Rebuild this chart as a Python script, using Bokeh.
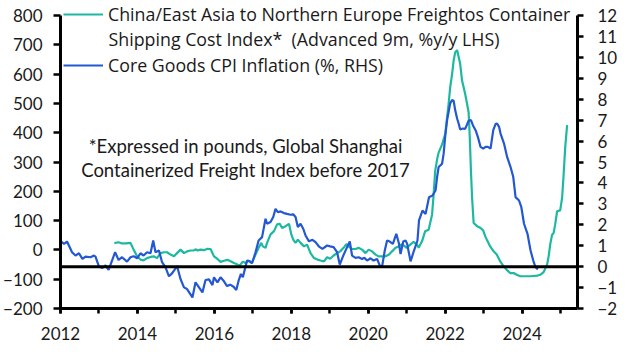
from bokeh.plotting import figure
from bokeh.models import Range1d, LinearAxis, FixedTicker, Span, Label, Legend, LegendItem, ColumnDataSource
from bokeh.embed import file_html
from bokeh.resources import INLINE

# Core goods CPI inflation (%, RHS)
cpi_x = [2012.02, 2012.09, 2012.17, 2012.30, 2012.39, 2012.48, 2012.57, 2012.65, 2012.78, 2012.87, 2012.91,
         2013.00, 2013.09, 2013.17, 2013.25, 2013.34, 2013.42, 2013.51, 2013.60, 2013.73, 2013.82, 2013.90,
         2013.99, 2014.08, 2014.16, 2014.25, 2014.34, 2014.41, 2014.47, 2014.56, 2014.64, 2014.73, 2014.82,
         2014.90, 2015.03, 2015.12, 2015.21, 2015.29, 2015.43, 2015.51, 2015.60, 2015.69, 2015.77, 2015.86,
         2015.95, 2015.99, 2016.08, 2016.16, 2016.25, 2016.33, 2016.41, 2016.50, 2016.57, 2016.63, 2016.69,
         2016.74, 2016.81, 2016.85, 2016.92, 2016.98, 2017.07, 2017.15, 2017.24, 2017.33, 2017.37, 2017.46,
         2017.53, 2017.59, 2017.65, 2017.72, 2017.81, 2017.89, 2017.98, 2018.05, 2018.11, 2018.17, 2018.24,
         2018.31, 2018.37, 2018.46, 2018.55, 2018.63, 2018.72, 2018.81, 2018.93, 2019.01, 2019.10, 2019.19,
         2019.26, 2019.34, 2019.43, 2019.52, 2019.58, 2019.67, 2019.75, 2019.84, 2019.90, 2019.97, 2020.06,
         2020.14, 2020.23, 2020.30, 2020.36, 2020.43, 2020.49, 2020.56, 2020.64, 2020.73, 2020.80, 2020.84,
         2020.91, 2020.97, 2021.01, 2021.10, 2021.19, 2021.28, 2021.32, 2021.41, 2021.49, 2021.58, 2021.67,
         2021.75, 2021.79, 2021.83, 2021.92, 2021.96, 2022.00, 2022.05, 2022.09, 2022.13, 2022.18, 2022.22,
         2022.26, 2022.31, 2022.35, 2022.39, 2022.46, 2022.52, 2022.61, 2022.67, 2022.72, 2022.79, 2022.85,
         2022.92, 2022.99, 2023.05, 2023.11, 2023.18, 2023.25, 2023.31, 2023.35, 2023.40, 2023.44, 2023.53,
         2023.61, 2023.70, 2023.77, 2023.83, 2023.92, 2023.98, 2024.05, 2024.14, 2024.22, 2024.29, 2024.35,
         2024.41]
cpi_y = [1.20, 1.09, 1.20, 0.69, 0.53, 0.64, 0.37, 0.48, 0.45, 0.53, 0.48,
         0.00, -0.06, 0.06, -0.16, 0.29, 0.69, 0.32, 0.45, 0.24, 0.45, 0.50,
         0.40, 0.64, 0.53, 0.69, 0.64, 1.25, 0.69, 0.77, 0.21, -0.03, -0.46,
         -0.32, 0.03, -0.59, -0.99, -1.07, -1.47, -0.75, -0.99, -1.23, -0.64, -0.61,
         -0.88, -0.51, -0.75, -0.51, -0.70, -0.93, -0.86, -0.96, -1.12, -0.67, -0.35,
         -0.51, 0.00, 0.29, 0.26, 0.16, 0.69, 1.25, 1.41, 2.29, 2.05, 2.13,
         2.37, 2.76, 2.60, 2.64, 2.56, 2.52, 2.48, 2.50, 2.37, 1.89, 2.05,
         1.81, 1.49, 1.21, 1.28, 1.17, 0.96, 0.85, 1.01, 0.97, 0.93, 0.69,
         0.10, 0.48, 0.85, 1.20, 0.53, 0.42, 0.45, 0.37, 0.42, 0.29, 0.40,
         0.29, 0.37, 0.05, 0.00, 0.77, 1.25, 1.20, 1.09, 1.57, 1.09, 0.60,
         1.20, 1.25, 1.10, 0.25, 0.77, 1.25, 2.21, 2.68, 2.52, 3.32, 3.40,
         3.64, 4.28, 4.76, 4.92, 5.40, 6.20, 7.00, 7.40, 7.80, 7.96, 7.93,
         7.48, 7.08, 6.84, 6.55, 6.60, 6.58, 6.97, 7.00, 6.76, 6.52, 6.20,
         5.72, 5.64, 5.72, 5.72, 5.64, 6.52, 6.81, 6.84, 6.68, 6.36, 5.88,
         5.24, 4.76, 4.28, 3.32, 3.16, 2.84, 2.05, 1.57, 0.77, 0.29, -0.03,
         -0.13]

# Freightos container shipping cost index (advanced 9m, %y/y, LHS)
frt_x = [2013.40, 2013.51, 2013.60, 2013.71, 2013.82, 2013.90, 2013.99, 2014.08, 2014.16, 2014.25, 2014.34,
         2014.43, 2014.51, 2014.60, 2014.69, 2014.77, 2014.86, 2014.95, 2015.03, 2015.12, 2015.21, 2015.29,
         2015.38, 2015.47, 2015.51, 2015.56, 2015.64, 2015.73, 2015.82, 2015.90, 2015.99, 2016.08, 2016.16,
         2016.25, 2016.34, 2016.42, 2016.51, 2016.60, 2016.66, 2016.74, 2016.81, 2016.89, 2016.97, 2017.07,
         2017.15, 2017.22, 2017.26, 2017.33, 2017.37, 2017.46, 2017.55, 2017.63, 2017.70, 2017.76, 2017.85,
         2017.94, 2018.00, 2018.05, 2018.11, 2018.17, 2018.24, 2018.33, 2018.41, 2018.50, 2018.59, 2018.68,
         2018.76, 2018.85, 2018.93, 2019.01, 2019.10, 2019.19, 2019.27, 2019.36, 2019.43, 2019.49, 2019.58,
         2019.67, 2019.75, 2019.84, 2019.93, 2020.01, 2020.10, 2020.19, 2020.27, 2020.36, 2020.45, 2020.54,
         2020.62, 2020.71, 2020.80, 2020.88, 2021.00, 2021.09, 2021.18, 2021.27, 2021.31, 2021.40, 2021.48,
         2021.57, 2021.66, 2021.70, 2021.74, 2021.79, 2021.83, 2021.92, 2022.00, 2022.05, 2022.09, 2022.13,
         2022.18, 2022.22, 2022.26, 2022.31, 2022.39, 2022.44, 2022.48, 2022.52, 2022.57, 2022.61, 2022.64,
         2022.67, 2022.70, 2022.74, 2022.83, 2022.92, 2022.99, 2023.04, 2023.10, 2023.17, 2023.26, 2023.34,
         2023.43, 2023.52, 2023.60, 2023.69, 2023.78, 2023.86, 2023.95, 2024.04, 2024.12, 2024.21, 2024.30,
         2024.39, 2024.47, 2024.56, 2024.65, 2024.69, 2024.73, 2024.78, 2024.82, 2024.86, 2024.91, 2024.99,
         2025.04, 2025.08, 2025.12, 2025.17]
frt_y = [23, 26, 22, 22, 24, 1, -22, -33, -36, -28, -24,
         -22, -28, -11, -8, -8, -16, -22, -11, 1, -11, -5,
         -2, -2, 2, -2, 1, -1, 4, 3, -22, -31, -41,
         -37, -34, -39, -45, -50, -53, -40, -45, -37, -45, -16,
         7, 24, 12, 7, 24, 53, 64, 87, 89, 75, 81,
         89, 53, 35, 24, 35, 24, 12, 18, -11, -28, -33,
         -36, -39, -25, -30, -19, -11, -5, 7, 20, 12, 3,
         3, 7, 1, -11, 1, -5, -16, -22, -22, -22, -16,
         -5, 7, 12, 20, 7, 18, 27, 18, 7, 30, 64,
         69, 121, 189, 269, 309, 332, 360, 395, 452, 498, 555,
         600, 646, 674, 682, 635, 577, 555, 532, 498, 469, 383,
         269, 178, 92, 81, 75, 66, 47, 30, 12, -5, -16,
         -39, -56, -68, -79, -79, -85, -90, -90, -90, -90, -89,
         -88, -85, -76, -50, -22, 18, 52, 58, 87, 132, 135,
         178, 258, 349, 426]

lhs_ticks = [-200, -100, 0, 100, 200, 300, 400, 500, 600, 700, 800]
rhs_ticks = list(range(-2, 13))
year_ticks = [2012, 2014, 2016, 2018, 2020, 2022, 2024]
year_minor = list(range(2012, 2026))

legend_teal = "China/East Asia to Northern Europe Freightos Container"
legend_teal2 = "Shipping Cost Index*\u00a0\u00a0(Advanced 9m, %y/y LHS)"
legend_blue = "Core Goods CPI Inflation (%, RHS)"
note1 = "*Expressed in pounds, Global Shanghai"
note2 = "Containerized Freight Index before 2017"

TEAL = "#1CB9A0"
BLUE = "#2457D2"
FONT = "Lato"
LFONT = "Open Sans"
TXT = "#1a1a1a"
FS = "17px"
LFS = "17.8px"
NFS = "18.5px"

p = figure(width=629, height=354, output_backend="svg", toolbar_location=None,
           x_range=Range1d(2012, 2025.44), y_range=Range1d(-200, 851.2),
           min_border_left=60, min_border_right=52, min_border_top=0, min_border_bottom=46)
p.extra_y_ranges = {"rhs": Range1d(-2, 12.717)}
p.outline_line_color = None
p.grid.visible = False
p.background_fill_color = "white"
p.border_fill_color = "white"

right_axis = LinearAxis(y_range_name="rhs")
p.add_layout(right_axis, "right")

for ax in [p.yaxis[0], right_axis, p.xaxis[0]]:
    ax.axis_line_color = "black"
    ax.axis_line_width = 3
    ax.major_tick_line_color = "black"
    ax.major_tick_line_width = 2.5
    ax.major_tick_in = 0
    ax.minor_tick_in = 0
    ax.major_label_text_font = FONT
    ax.major_label_text_font_size = FS
    ax.major_label_text_color = TXT

p.yaxis[0].ticker = FixedTicker(ticks=lhs_ticks, minor_ticks=[])
p.yaxis[0].bounds = (-200, 800)
p.yaxis[0].major_tick_out = 7
p.yaxis[0].major_label_standoff = 11
p.yaxis[0].minor_tick_line_color = None

right_axis.ticker = FixedTicker(ticks=rhs_ticks, minor_ticks=[])
right_axis.bounds = (-2, 12)
right_axis.major_tick_out = 6
right_axis.major_label_standoff = 14
right_axis.minor_tick_line_color = None

xa = p.xaxis[0]
xa.ticker = FixedTicker(ticks=year_ticks, minor_ticks=year_minor)
xa.major_tick_out = 5
xa.minor_tick_out = 5
xa.minor_tick_line_color = "black"
xa.minor_tick_line_width = 2.5
xa.major_label_standoff = 13

p.add_layout(Span(location=0, dimension="width", y_range_name="rhs", line_color="black", line_width=3))

frt_src = ColumnDataSource(dict(x=frt_x, y=frt_y))
cpi_src = ColumnDataSource(dict(x=cpi_x, y=cpi_y))
r_frt = p.line("x", "y", source=frt_src, line_color=TEAL, line_width=2.2)
r_cpi = p.line("x", "y", source=cpi_src, line_color=BLUE, line_width=2.2, y_range_name="rhs")

legend = Legend(items=[LegendItem(label=legend_teal, renderers=[r_frt]),
                       LegendItem(label=legend_blue, renderers=[r_cpi])],
                location=(3, 231), padding=0, margin=0, spacing=27,
                glyph_width=40, glyph_height=22, label_height=22, label_standoff=5,
                label_text_font=LFONT, label_text_font_size=LFS, label_text_color=TXT,
                border_line_alpha=0, background_fill_alpha=0)
p.add_layout(legend)

p.add_layout(Label(x=2013.25, y=721.5, text=legend_teal2, text_baseline="middle",
                   text_font=LFONT, text_font_size=LFS, text_color=TXT))
p.add_layout(Label(x=2016.81, y=356.3, text=note1, text_align="center", text_baseline="middle",
                   text_font=FONT, text_font_size=NFS, text_color=TXT))
p.add_layout(Label(x=2016.81, y=271.0, text=note2, text_align="center", text_baseline="middle",
                   text_font=FONT, text_font_size=NFS, text_color=TXT))

open("out.html", "w").write(file_html(p, INLINE))
